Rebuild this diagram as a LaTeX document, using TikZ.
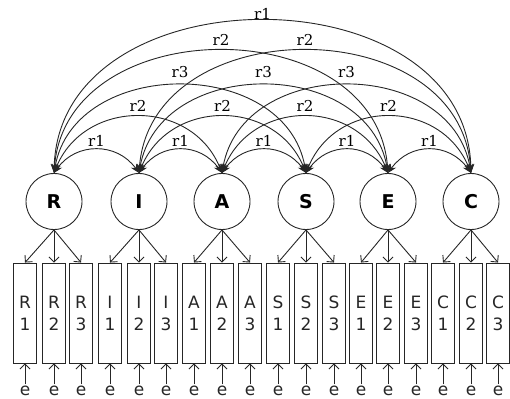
\documentclass[tikz,border=0pt]{standalone}
\usepackage{fontspec}
\setmainfont{DejaVu Sans}
\newfontfamily\rfont{DejaVu Serif}
\usetikzlibrary{arrows.meta}
\begin{document}
\begin{tikzpicture}[x=1pt,y=-1pt,
  ln/.style={draw=black!85, line width=0.9pt},
  lat/.style={circle, ln, minimum size=56pt, inner sep=0pt, font=\fontsize{19}{19}\selectfont\bfseries},
  obs/.style={rectangle, ln, minimum width=23pt, minimum height=100pt, inner sep=0pt, align=center, font=\fontsize{17}{22}\selectfont, text=black!85},
  err/.style={inner sep=1pt, font=\fontsize{17}{17}\selectfont, text=black!85},
  load/.style={ln, -{Straight Barb[length=5pt,width=10pt]}},
  cov/.style={ln, {Stealth[length=9pt,width=7pt]}-{Stealth[length=9pt,width=7pt]}},
  lab/.style={font=\rfont\fontsize{15}{15}\selectfont, inner sep=0pt, pos=0.5}]
\useasboundingbox (0,0) rectangle (510,398);
% latent factors
\foreach \l/\x in {R/54, I/139, A/222, S/306, E/388, C/471}
  \node[lat] (\l) at (\x,201.5) {\l};
% indicators, loadings, errors
\foreach \l/\k/\x in {R/1/25, R/2/54, R/3/81, I/1/110, I/2/139, I/3/166,
                      A/1/194, A/2/222, A/3/250, S/1/278, S/2/306, S/3/334,
                      E/1/361, E/2/388, E/3/416, C/1/443, C/2/471, C/3/498}{
  \node[obs] (\l\k) at (\x,313) {\l\\\k};
  \node[err, anchor=base] (e\l\k) at (\x,395) {e};
  \draw[load] (\l.south) -- (\l\k.north);
  \draw[load] (e\l\k.north) -- (\l\k.south);
}
% covariances, distance 1
\foreach \a/\b in {R/I, I/A, A/S, S/E, E/C}
  \draw[cov] (\a.north) .. controls +(22,-31) and +(-22,-31) .. (\b.north) node[lab, above=3pt] {r1};
% distance 2
\foreach \a/\b in {R/A, I/S, A/E, S/C}
  \draw[cov] (\a.north) .. controls +(30,-75) and +(-30,-75) .. (\b.north) node[lab, above=5pt] {r2};
% distance 3
\foreach \a/\b in {R/S, I/E, A/C}
  \draw[cov] (\a.north) .. controls +(20,-117) and +(-20,-117) .. (\b.north) node[lab, above=7pt] {r3};
% distance 4
\foreach \a/\b in {R/E, I/C}
  \draw[cov] (\a.north) .. controls +(12,-163) and +(-12,-163) .. (\b.north) node[lab, above=5pt] {r2};
% distance 5
\draw[cov] (R.north) .. controls +(5,-203) and +(-5,-203) .. (C.north) node[lab, above=1pt] {r1};
\end{tikzpicture}
\end{document}
